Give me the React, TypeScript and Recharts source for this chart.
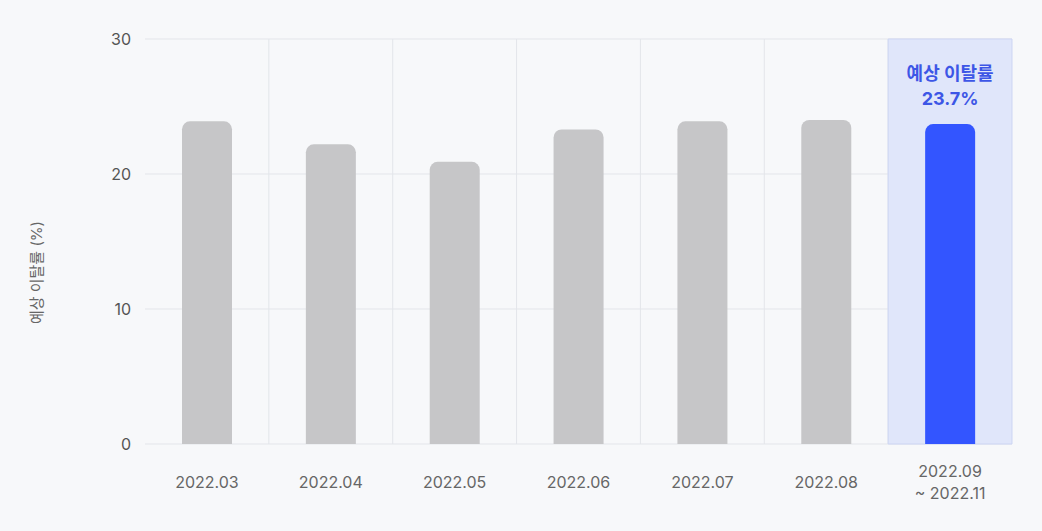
import {
  Bar,
  BarChart,
  CartesianGrid,
  Cell,
  LabelList,
  ReferenceArea,
  XAxis,
  YAxis,
} from "recharts";

const periods = [
  "2022.03",
  "2022.04",
  "2022.05",
  "2022.06",
  "2022.07",
  "2022.08",
  "2022.09\n~ 2022.11",
];
const churnRates = [23.9, 22.2, 20.9, 23.3, 23.9, 24.0, 23.7];
const yTicks = [0, 10, 20, 30];

const FONT = "Inter, 'Noto Sans CJK KR', 'Noto Sans', sans-serif";
const GRID = "#e3e5ea";
const BAR_GRAY = "#c6c6c8";
const BAR_BLUE = "#3355ff";
const HIGHLIGHT = "#3d56e6";

const data = periods.map((period, i) => ({ period, rate: churnRates[i] }));
const lastPeriod = periods[periods.length - 1];

function PeriodTick({ x, y, payload }: { x?: number; y?: number; payload?: { value: string } }) {
  const lines = String(payload?.value ?? "").split("\n");
  return (
    <g>
      {lines.map((line, i) => (
        <text
          key={line}
          x={x}
          y={(y ?? 0) + (i - (lines.length - 1) / 2) * 22}
          textAnchor="middle"
          dominantBaseline="central"
          fill="#666"
          fontSize={16}
          fontFamily={FONT}
        >
          {line}
        </text>
      ))}
    </g>
  );
}

function ForecastLabel(props: any) {
  const { x, y, width, index } = props;
  if (index !== periods.length - 1) return null;
  const cx = Number(x) + Number(width) / 2;
  return (
    <g fontFamily={FONT} fontWeight={700} fontSize={18} fill={HIGHLIGHT} textAnchor="middle">
      <text x={cx} y={Number(y) - 51} dominantBaseline="central">
        예상 이탈률
      </text>
      <text x={cx} y={Number(y) - 26} dominantBaseline="central">
        {`${churnRates[index]}%`}
      </text>
    </g>
  );
}

function YLabel({ viewBox }: any) {
  const cy = viewBox.y + viewBox.height / 2 + 31;
  return (
    <text
      x={36}
      y={cy}
      transform={`rotate(-90, 36, ${cy})`}
      textAnchor="middle"
      dominantBaseline="central"
      fill="#666"
      fontSize={15}
      fontFamily={FONT}
    >
      예상 이탈률 (%)
    </text>
  );
}

export default function App() {
  return (
    <div
      style={{
        position: "fixed",
        left: 0,
        top: 0,
        width: 1042,
        height: 531,
        background: "#f7f8fa",
      }}
    >
      <BarChart
        width={1042}
        height={531}
        data={data}
        margin={{ top: 39, right: 30, left: 0, bottom: 0 }}
      >
        <ReferenceArea
          x1={lastPeriod}
          x2={lastPeriod}
          y1={0}
          y2={30}
          fill="#e0e6fa"
          fillOpacity={1}
          stroke="#cdd5f3"
          strokeWidth={1}
        />
        <CartesianGrid
          stroke={GRID}
          verticalCoordinatesGenerator={({ offset }: any) =>
            periods.slice(1).map((_, i) => offset.left + ((i + 1) * offset.width) / periods.length)
          }
        />
        <XAxis
          dataKey="period"
          axisLine={false}
          tickLine={false}
          tickSize={0}
          tickMargin={38}
          height={87}
          interval={0}
          tick={<PeriodTick />}
        />
        <YAxis
          domain={[0, 30]}
          ticks={yTicks}
          axisLine={false}
          tickLine={false}
          tickSize={0}
          tickMargin={14}
          width={145}
          tick={{ fill: "#555", fontSize: 16, fontFamily: FONT }}
          label={<YLabel />}
        />
        <Bar dataKey="rate" barSize={50} radius={[8, 8, 0, 0]} isAnimationActive={false}>
          {data.map((d, i) => (
            <Cell key={d.period} fill={i === data.length - 1 ? BAR_BLUE : BAR_GRAY} />
          ))}
          <LabelList dataKey="rate" content={<ForecastLabel />} />
        </Bar>
      </BarChart>
    </div>
  );
}
